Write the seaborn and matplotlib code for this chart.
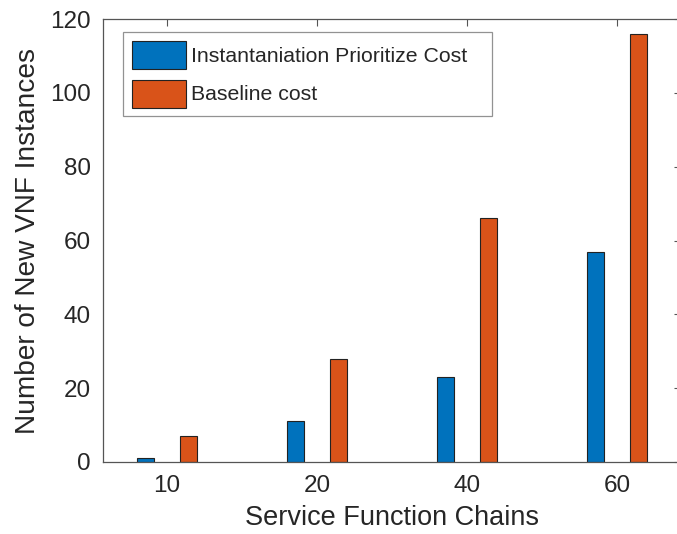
import matplotlib
matplotlib.use("Agg")
import matplotlib.pyplot as plt
import seaborn as sns
import pandas as pd

categories = ["10", "20", "40", "60"]
prioritize = [1, 11, 23, 57]
baseline = [7, 28, 66, 116]
series_names = ["Instantaniation Prioritize Cost", "Baseline cost"]
yticks = [0, 20, 40, 60, 80, 100, 120]

df = pd.DataFrame({
    "chains": categories * 2,
    "value": prioritize + baseline,
    "series": [series_names[0]] * len(categories) + [series_names[1]] * len(categories),
})

sns.set_style("white")
plt.rcParams["font.family"] = ["Liberation Sans", "DejaVu Sans"]

fig = plt.figure(figsize=(6.77, 5.34), dpi=100)
ax = fig.add_axes([103 / 677, 72 / 534, 578 / 677, 443 / 534])

sns.barplot(data=df, x="chains", y="value", hue="series", order=categories,
            hue_order=series_names, palette=["#0072BD", "#D95319"], saturation=1,
            width=0.573, gap=0.605, edgecolor="#222222", linewidth=0.8,
            ax=ax, errorbar=None)

ax.set_xlim(-0.427, 3.427)
ax.set_ylim(0, 120)
ax.set_yticks(yticks)
ax.set_xlabel("Service Function Chains", fontsize=19.5, color="#262626", labelpad=6)
ax.set_ylabel("Number of New VNF Instances", fontsize=20.2, color="#262626", labelpad=6)
ax.tick_params(axis="both", direction="in", length=5, width=0.8, color="#555555",
               labelsize=17.5, labelcolor="#262626", top=True, right=True, pad=9)
for s in ax.spines.values():
    s.set_color("#555555")
    s.set_linewidth(0.9)
    s.set_visible(True)
ax.spines["right"].set_visible(False)

handles, labels = ax.get_legend_handles_labels()
leg = ax.legend(handles, labels, loc="upper left",
                bbox_to_anchor=(0.0346, 0.9707, 0.638, 0.0), mode="expand",
                borderaxespad=0, fontsize=15.3, frameon=True, fancybox=False,
                handlelength=2.55, handleheight=1.65, handletextpad=0.25,
                labelspacing=0.5, borderpad=0.42, edgecolor="#777777")
leg.get_frame().set_linewidth(0.9)

fig.savefig("out.png", dpi=100)
